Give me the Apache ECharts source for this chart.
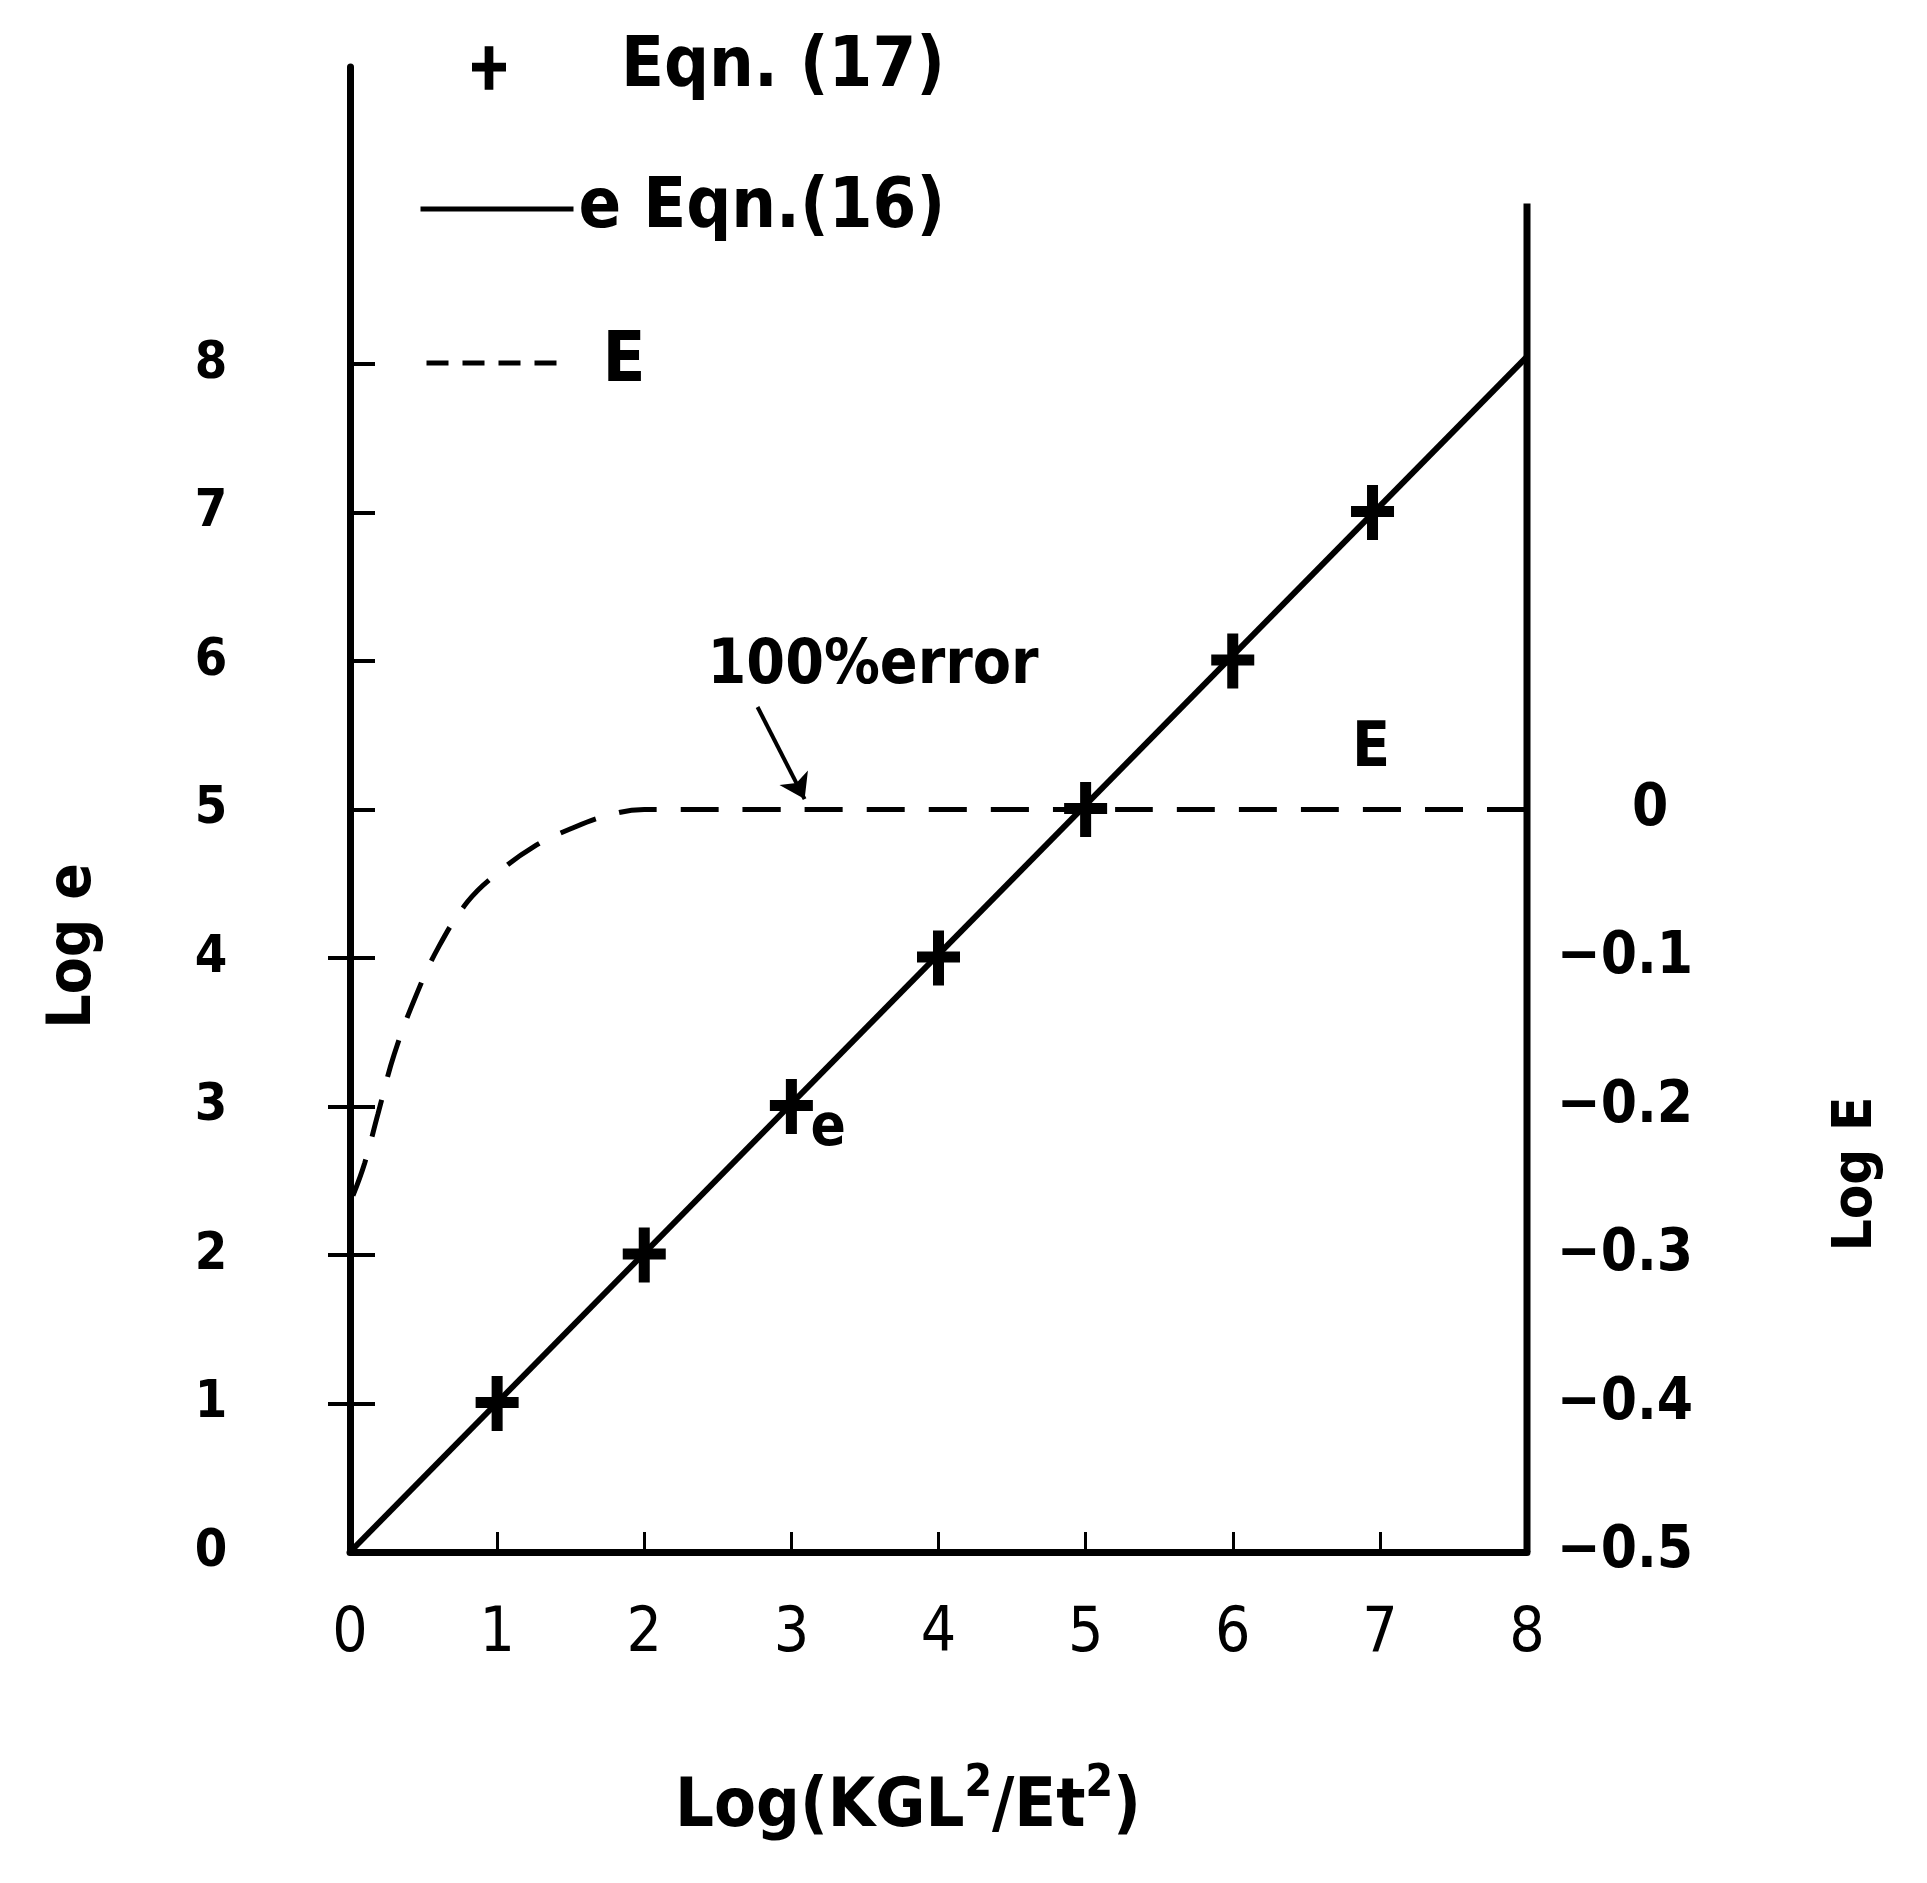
<!DOCTYPE html>
<html>
<head>
<meta charset="utf-8">
<title>Log e / Log E</title>
<script src="https://cdn.jsdelivr.net/npm/echarts@6/dist/echarts.min.js"></script>
<style>
  html, body { margin: 0; padding: 0; background: #fff; }
  #chart { width: 1927px; height: 1883px; }
</style>
</head>
<body>
<div id="chart"></div>
<script>
// values
const xTicks = [0, 1, 2, 3, 4, 5, 6, 7, 8];
const logeTicks = [0, 1, 2, 3, 4, 5, 6, 7, 8];
const logETicks = [-0.5, -0.4, -0.3, -0.2, -0.1, 0];

// e, Eqn. (16): straight line
const eqn16X = [0, 8];
const eqn16Y = [0, 8.05];

// Eqn. (17) points
const eqn17X = [1, 2, 3, 4, 5, 6, 6.95];
const eqn17Y = [1, 2, 3, 4, 5, 6, 7];

// E curve, on the Log E axis
const curveX = [0.02, 0.1, 0.19, 0.3, 0.45, 0.6, 0.8, 1.0, 1.25, 1.5, 1.75, 2.0, 8.0];
const curveLogE = [-0.26, -0.238, -0.205, -0.165, -0.125, -0.093, -0.062, -0.043, -0.025, -0.013, -0.004, 0, 0];

// right-hand frame line
const frameX = [8, 8];
const frameY = [0, 9.08];

const zip = (a, b) => a.map((v, i) => [v, b[i]]);

const FONT = "'DejaVu Sans Condensed', 'DejaVu Sans', sans-serif";
const plus = 'path://M16,0 H27 V21 H43 V32 H27 V55 H16 V32 H0 V21 H16 Z';

let myChart = echarts.init(document.getElementById('chart'));

let legendText = { color: '#000', fontFamily: FONT, fontSize: 70, fontWeight: 'bold', lineHeight: 80 };

let option = {
  backgroundColor: '#fff',
  animation: false,
  grid: {
    left: 350, right: 400, top: 67, bottom: 331,
    containLabel: false,
    outerBoundsMode: 'none'
  },
  legend: [
    {
      left: 467, top: 23,
      selectedMode: false,
      data: ['Eqn. (17)'],
      itemWidth: 34, itemHeight: 46,
      itemStyle: { color: '#000', opacity: 1 },
      textStyle: Object.assign({}, legendText, { padding: [0, 0, 0, 110] })
    },
    {
      left: 413, top: 164,
      selectedMode: false,
      data: ['e Eqn.(16)'],
      itemWidth: 153, itemHeight: 14,
      itemStyle: { opacity: 0 },
      lineStyle: { color: '#000', width: 5 },
      textStyle: legendText
    },
    {
      left: 419, top: 318,
      selectedMode: false,
      data: ['E'],
      itemWidth: 141, itemHeight: 14,
      itemStyle: { opacity: 0 },
      lineStyle: { color: '#000', width: 5, type: [22, 14] },
      textStyle: Object.assign({}, legendText, { padding: [0, 0, 0, 30] })
    }
  ],
  xAxis: {
    type: 'value',
    min: 0, max: 8, interval: 1,
    axisLine: { show: true, lineStyle: { color: '#000', width: 7 } },
    axisTick: { show: true, inside: true, length: 20, lineStyle: { color: '#000', width: 3 } },
    axisLabel: {
      color: '#000', fontFamily: FONT, fontSize: 62, margin: 52,
      customValues: xTicks
    },
    splitLine: { show: false }
  },
  yAxis: [
    {
      type: 'value',
      min: 0, max: 10, interval: 1,
      axisLine: { show: true, onZero: false, lineStyle: { color: '#000', width: 7 } },
      axisTick: { show: true, inside: true, length: 25, lineStyle: { color: '#000', width: 4 }, customValues: logeTicks.slice(1) },
      axisLabel: {
        color: '#000', fontFamily: FONT, fontSize: 52, fontWeight: 'bold',
        align: 'center', margin: 139,
        customValues: logeTicks
      },
      splitLine: { show: false }
    },
    {
      type: 'value',
      position: 'right',
      min: -0.5, max: 0.5, interval: 0.1,
      axisLine: { show: false },
      axisTick: { show: true, inside: true, length: 22, lineStyle: { color: '#000', width: 4 }, customValues: [-0.4, -0.3, -0.2, -0.1] },
      axisLabel: {
        color: '#000', fontFamily: FONT, fontSize: 58, fontWeight: 'bold',
        align: 'left', margin: 30,
        customValues: logETicks,
        formatter: v => v === 0 ? '{z|0}' : '\u2212' + Math.abs(v).toFixed(1),
        rich: { z: { fontFamily: FONT, fontSize: 58, fontWeight: 'bold', color: '#000', padding: [0, 0, 0, 75] } }
      },
      splitLine: { show: false }
    }
  ],
  graphic: [
    {
      type: 'text', x: 908, y: 1808,
      style: {
        text: 'Log(KGL{s|2}/Et{s|2})',
        fill: '#000', font: 'bold 68px ' + FONT,
        align: 'center', verticalAlign: 'middle',
        rich: { s: { fill: '#000', font: 'bold 44px ' + FONT, padding: [0, 0, 46, 0] } }
      }
    },
    {
      type: 'text', x: 74, y: 946, rotation: Math.PI / 2,
      style: { text: 'Log e', fill: '#000', font: 'bold 60px ' + FONT, align: 'center', verticalAlign: 'middle' }
    },
    {
      type: 'text', x: 1856, y: 1174, rotation: Math.PI / 2,
      style: { text: 'Log E', fill: '#000', font: 'bold 56px ' + FONT, align: 'center', verticalAlign: 'middle' }
    }
  ],
  series: [
    {
      name: 'e Eqn.(16)',
      type: 'line',
      data: zip(eqn16X, eqn16Y),
      symbol: 'none',
      lineStyle: { color: '#000', width: 6 },
      itemStyle: { color: '#000' },
      markPoint: {
        symbol: 'rect', symbolSize: 0,
        label: { show: true, position: 'right', distance: 0, color: '#000', fontFamily: FONT, fontWeight: 'bold' },
        data: [
          { coord: [2.43, 5.96], label: { formatter: '100%error', fontSize: 62 } },
          { coord: [6.81, 5.40], label: { formatter: 'E', fontSize: 62 } },
          { coord: [3.13, 2.84], label: { formatter: 'e', fontSize: 58 } }
        ]
      },
      markLine: {
        silent: true,
        symbol: ['none', 'arrow'],
        symbolSize: 24,
        label: { show: false },
        lineStyle: { color: '#000', width: 4, type: 'solid' },
        data: [[{ coord: [2.77, 5.69] }, { coord: [3.09, 5.07] }]]
      }
    },
    {
      name: 'Eqn. (17)',
      type: 'scatter',
      data: zip(eqn17X, eqn17Y),
      symbol: plus,
      symbolSize: [43, 55],
      itemStyle: { color: '#000', opacity: 1 }
    },
    {
      name: 'E',
      type: 'line',
      yAxisIndex: 1,
      data: zip(curveX, curveLogE),
      symbol: 'none',
      smooth: 0.4,
      lineStyle: { color: '#000', width: 5, type: [38, 24] },
      itemStyle: { color: '#000' }
    },
    {
      name: 'frame',
      type: 'line',
      data: zip(frameX, frameY),
      symbol: 'none',
      silent: true,
      lineStyle: { color: '#000', width: 7 }
    }
  ]
};

myChart.setOption(option, true);
</script>
</body>
</html>
